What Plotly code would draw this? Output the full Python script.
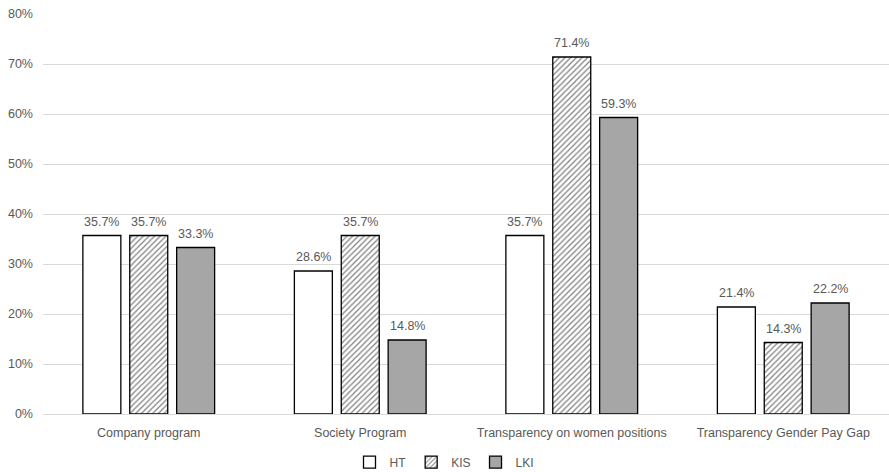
import plotly.graph_objects as go

categories = ["Company program", "Society Program", "Transparency on women positions", "Transparency Gender Pay Gap"]
series_names = ["HT", "KIS", "LKI"]
ht = [0.357, 0.286, 0.357, 0.214]
kis = [0.357, 0.357, 0.714, 0.143]
lki = [0.333, 0.148, 0.593, 0.222]
y_ticks = [0, 0.1, 0.2, 0.3, 0.4, 0.5, 0.6, 0.7, 0.8]
y_tick_labels = ["0%", "10%", "20%", "30%", "40%", "50%", "60%", "70%", "80%"]

gray = "#595959"
font_family = "Liberation Sans"

fig = go.Figure()
styles = [
    dict(color="white", pattern=None),
    dict(color="white", pattern=dict(shape="/", fgcolor="#000000", bgcolor="white", size=4, solidity=0.3)),
    dict(color="#a6a6a6", pattern=None),
]
series_vals = [ht, kis, lki]
for name, vals, st in zip(series_names, series_vals, styles):
    marker = dict(color=st["color"], line=dict(color="black", width=1.3))
    if st["pattern"]:
        marker["pattern"] = st["pattern"]
    fig.add_trace(go.Bar(x=categories, y=vals, name=name, marker=marker))

# data labels above each bar (horizontal pixel offset of the grouped bar)
group_step_px = 47
for i, vals in enumerate(series_vals):
    for cat, v in zip(categories, vals):
        fig.add_annotation(x=cat, y=v, text=f"{v*100:.1f}%", showarrow=False,
                           xshift=(i - 1) * group_step_px, yshift=5, yanchor="bottom",
                           font=dict(color=gray, size=12.5, family=font_family))

fig.update_layout(
    width=889, height=472,
    margin=dict(l=43, r=0, t=14, b=58, autoexpand=False),
    paper_bgcolor="white", plot_bgcolor="white",
    barmode="group", bargap=0.335, bargroupgap=0.19,
    font=dict(family=font_family, size=12.5, color=gray),
    showlegend=True,
    legend=dict(orientation="h", x=0.5, xanchor="center", xref="container",
                y=0.021, yanchor="middle", yref="container",
                font=dict(size=12, color=gray), itemwidth=30, traceorder="normal"),
)
fig.update_yaxes(range=[0, 0.8], tickvals=y_ticks, ticktext=y_tick_labels,
                 showgrid=True, gridcolor="#d9d9d9", gridwidth=1, zeroline=False,
                 showline=False, ticks="", ticklabelstandoff=9,
                 tickfont=dict(color=gray, size=12.5))
fig.update_xaxes(showline=True, linecolor="#d9d9d9", linewidth=1, ticks="",
                 ticklabelstandoff=7, tickfont=dict(color=gray, size=12.5))

fig.write_html("out.html")
